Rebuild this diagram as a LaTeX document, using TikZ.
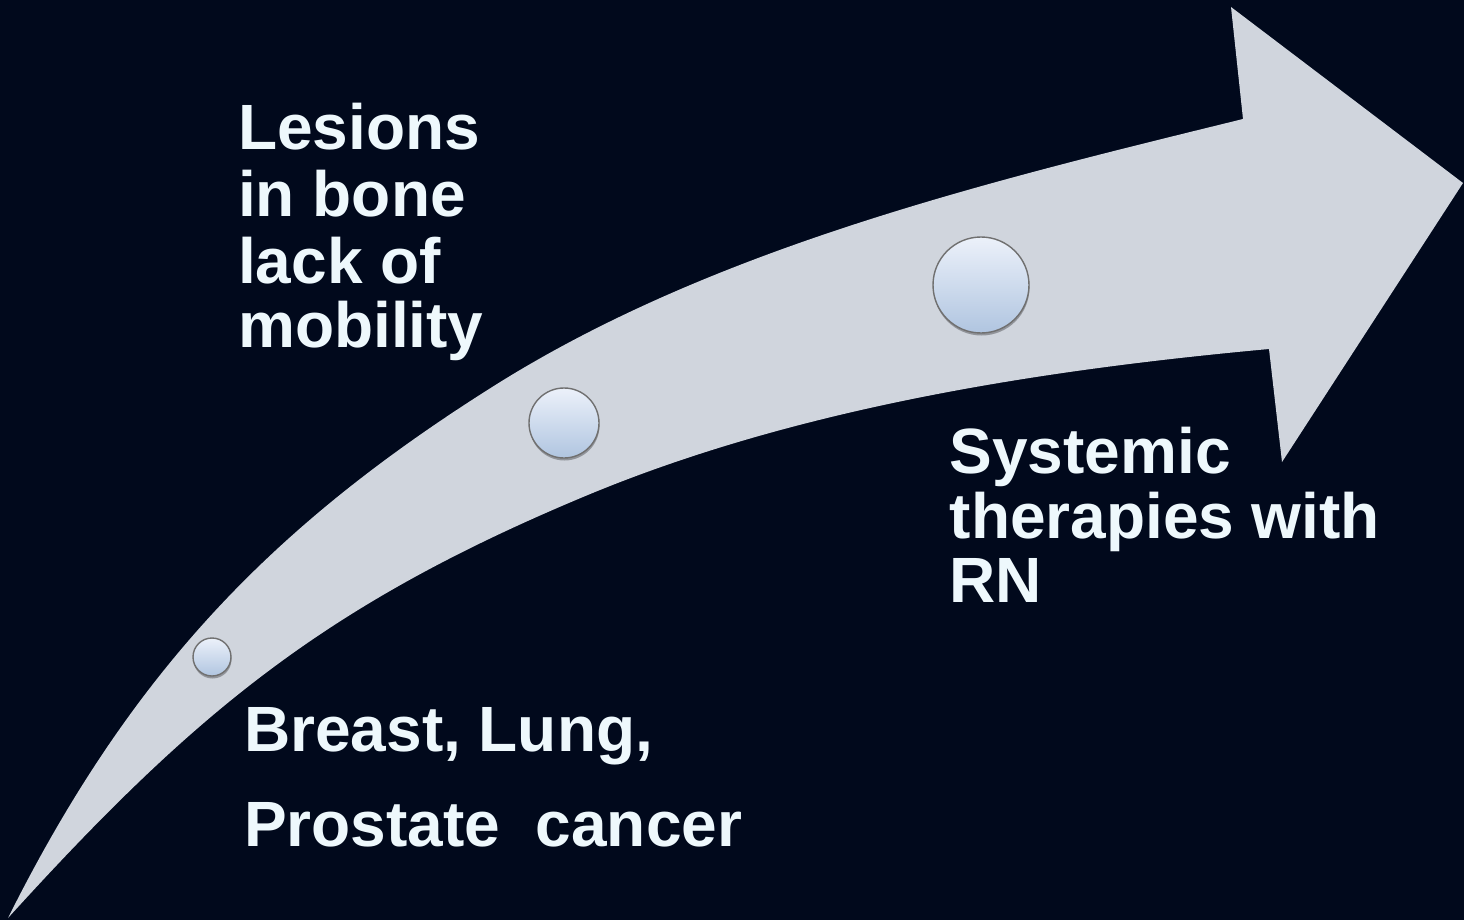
\documentclass[tikz,border=0pt]{standalone}
\usepackage{fontspec}
\setmainfont{Liberation Sans}
\usetikzlibrary{shadows}
\definecolor{bg}{RGB}{1,9,28}
\definecolor{arrowc}{RGB}{208,213,221}
\definecolor{txt}{RGB}{238,248,252}
\definecolor{dottop}{RGB}{236,241,250}
\definecolor{dotbot}{RGB}{176,197,224}
\definecolor{dotline}{RGB}{112,112,112}
\tikzset{
  lbl/.style={anchor=base west, inner sep=0pt, text=txt, font=\fontsize{64}{70}\selectfont\bfseries},
  dot/.style={circle, inner sep=0pt, draw=dotline, line width=1.4pt, top color=dottop, bottom color=dotbot,
    drop shadow={shadow xshift=0.5pt, shadow yshift=-2.5pt, opacity=0.3, fill=black}}
}
\begin{document}
\begin{tikzpicture}[x=1pt, y=-1pt]
\fill[bg] (0,0) rectangle (1464,920);
\useasboundingbox (0,0) rectangle (1464,920);
% curved arrow
\coordinate (tail) at (8,918);
\coordinate (umid) at (497,384);
\coordinate (unotch) at (1243,119);
\coordinate (ubarb) at (1231,7);
\coordinate (tip) at (1463,183);
\coordinate (lbarb) at (1282,462);
\coordinate (lnotch) at (1269,349);
\coordinate (lmid) at (583,497);
\fill[arrowc] (tail)
 .. controls (133,668) and (277,522) .. (umid)
 .. controls (717,246.5) and (991,181) .. (unotch)
 -- (ubarb) -- (tip) -- (lbarb) -- (lnotch)
 .. controls (1040,370) and (795,408) .. (lmid)
 .. controls (325,605) and (196,711) .. (tail)
 -- cycle;
% dots
\node[dot, minimum size=38pt] (d1) at (212,657) {};
\node[dot, minimum size=70pt] (d2) at (564,423) {};
\node[dot, minimum size=96pt] (d3) at (981,285) {};
% labels
\node[lbl] (l1) at (238,150) {Lesions};
\node[lbl] (l2) at (238,216.5) {in bone};
\node[lbl] (l3) at (238,283) {lack of};
\node[lbl] (l4) at (238,347) {mobility};
\node[lbl] (b1) at (244,751.5) {Breast, Lung,};
\node[lbl] (b2) at (244,846.5) {Prostate\ \ cancer};
\node[lbl] (s1) at (949.5,473) {Systemic};
\node[lbl] (s2) at (949.5,538) {therapies with};
\node[lbl] (s3) at (949.5,602) {RN};
\end{tikzpicture}
\end{document}
